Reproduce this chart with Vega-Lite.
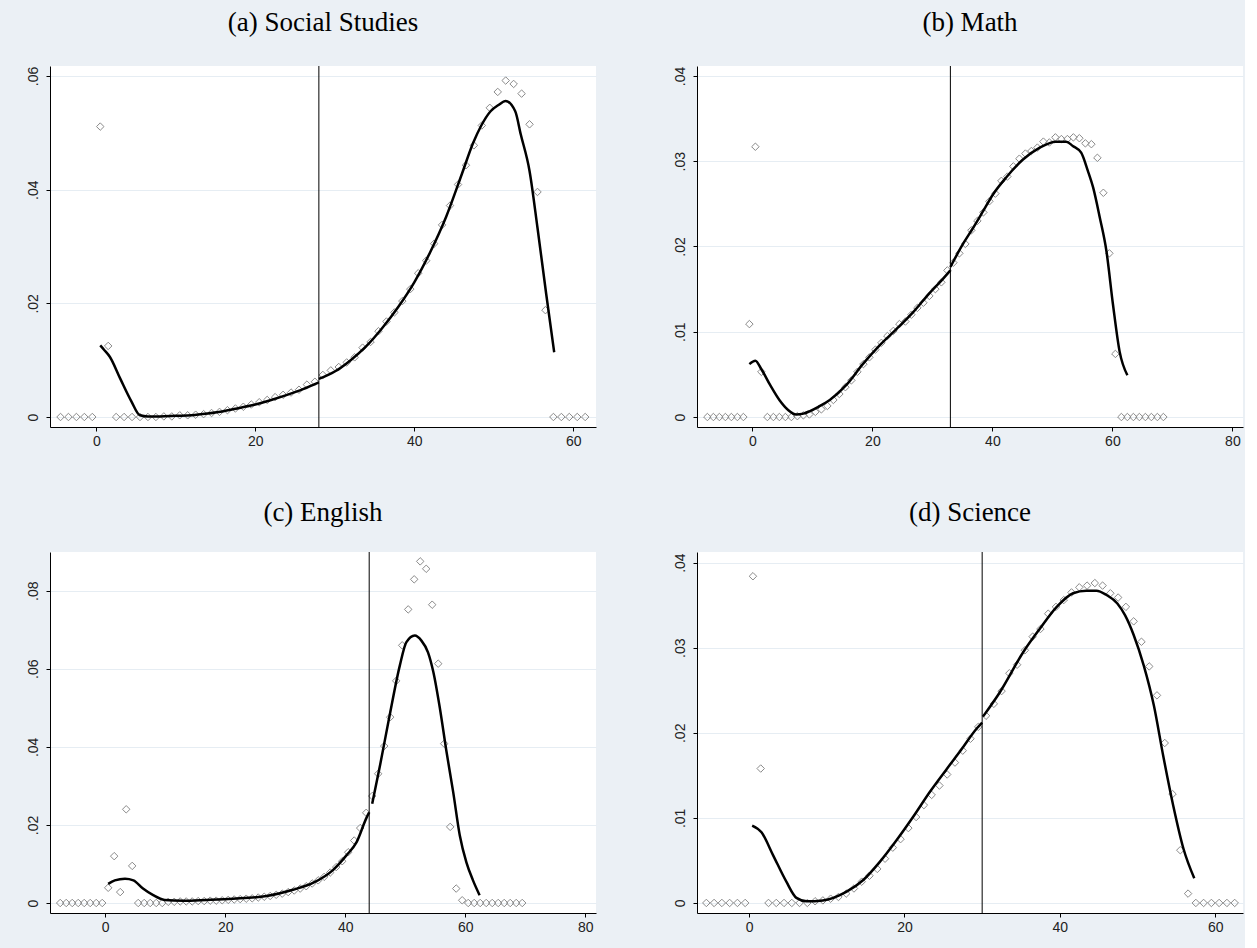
{
  "$schema": "https://vega.github.io/schema/vega-lite/v6.json",
  "background": "#ebf0f5",
  "padding": {"left": 26, "top": 8, "right": 2, "bottom": 21},
  "columns": 2,
  "spacing": {"row": 125, "column": 101},
  "bounds": "flush",
  "config": {
    "view": {"fill": "white", "stroke": null},
    "axis": {"domainColor": "#000", "domainWidth": 1, "tickColor": "#000", "tickSize": 4, "tickWidth": 1, "labelFont": "Liberation Sans", "labelFontSize": 14, "labelColor": "#222", "labelFlush": false, "labelOverlap": false},
    "axisX": {"grid": false, "labelPadding": 3},
    "axisY": {"grid": true, "gridColor": "#e6edf3", "gridWidth": 1, "labelAngle": -90, "labelAlign": "center", "labelBaseline": "bottom", "labelPadding": 6},
    "title": {"font": "Liberation Serif", "fontSize": 27, "fontWeight": "normal", "color": "#000", "anchor": "middle", "baseline": "alphabetic"}
  },
  "datasets": {
    "a_pts": [
      {"x":-4.5,"y":0},{"x":-3.5,"y":0},{"x":-2.5,"y":0},{"x":-1.5,"y":0},{"x":-0.5,"y":0},{"x":0.5,"y":0.0511},{"x":1.5,"y":0.0125},{"x":2.5,"y":0},{"x":3.5,"y":0},{"x":4.5,"y":0},{"x":5.5,"y":0},{"x":6.5,"y":0},{"x":7.5,"y":0},{"x":8.5,"y":0.0001},{"x":9.5,"y":0.0001},{"x":10.5,"y":0.0003},{"x":11.5,"y":0.0003},{"x":12.5,"y":0.0004},{"x":13.5,"y":0.0005},{"x":14.5,"y":0.0007},{"x":15.5,"y":0.0009},{"x":16.5,"y":0.0012},{"x":17.5,"y":0.0015},{"x":18.5,"y":0.0018},{"x":19.5,"y":0.0022},{"x":20.5,"y":0.0026},{"x":21.5,"y":0.003},{"x":22.5,"y":0.0035},{"x":23.5,"y":0.0039},{"x":24.5,"y":0.0043},{"x":25.5,"y":0.0048},{"x":26.5,"y":0.0057},{"x":27.5,"y":0.0062},{"x":28.5,"y":0.0074},{"x":29.5,"y":0.0082},{"x":30.5,"y":0.0088},{"x":31.5,"y":0.0096},{"x":32.5,"y":0.0105},{"x":33.5,"y":0.0122},{"x":34.5,"y":0.0132},{"x":35.5,"y":0.0151},{"x":36.5,"y":0.0168},{"x":37.5,"y":0.0184},{"x":38.5,"y":0.0204},{"x":39.5,"y":0.0225},{"x":40.5,"y":0.0253},{"x":41.5,"y":0.0275},{"x":42.5,"y":0.0305},{"x":43.5,"y":0.0338},{"x":44.5,"y":0.0372},{"x":45.5,"y":0.0409},{"x":46.5,"y":0.0443},{"x":47.5,"y":0.0478},{"x":48.5,"y":0.0513},{"x":49.5,"y":0.0544},{"x":50.5,"y":0.0572},{"x":51.5,"y":0.0592},{"x":52.5,"y":0.0586},{"x":53.5,"y":0.0569},{"x":54.5,"y":0.0515},{"x":55.5,"y":0.0396},{"x":56.5,"y":0.0188},{"x":57.5,"y":0},{"x":58.5,"y":0},{"x":59.5,"y":0},{"x":60.5,"y":0},{"x":61.5,"y":0}
    ],
    "a_line": [
      {"x":0.5,"y":0.0126,"s":"L"},{"x":1.0,"y":0.0118,"s":"L"},{"x":1.7,"y":0.0106,"s":"L"},{"x":3.0,"y":0.0068,"s":"L"},{"x":4.4,"y":0.0028,"s":"L"},{"x":5.5,"y":0.0003,"s":"L"},{"x":6.5,"y":0.0001,"s":"L"},{"x":8,"y":0.0001,"s":"L"},{"x":10,"y":0.0002,"s":"L"},{"x":12,"y":0.0003,"s":"L"},{"x":14,"y":0.0006,"s":"L"},{"x":16,"y":0.001,"s":"L"},{"x":18,"y":0.0016,"s":"L"},{"x":20,"y":0.0022,"s":"L"},{"x":22,"y":0.003,"s":"L"},{"x":24,"y":0.0039,"s":"L"},{"x":26,"y":0.0049,"s":"L"},{"x":28,"y":0.0061,"s":"L"},
      {"x":28,"y":0.0067,"s":"R"},{"x":30,"y":0.008,"s":"R"},{"x":32,"y":0.01,"s":"R"},{"x":34,"y":0.0125,"s":"R"},{"x":36,"y":0.0157,"s":"R"},{"x":38,"y":0.0194,"s":"R"},{"x":40,"y":0.0237,"s":"R"},{"x":42,"y":0.029,"s":"R"},{"x":44,"y":0.0352,"s":"R"},{"x":46,"y":0.0428,"s":"R"},{"x":47.4,"y":0.0482,"s":"R"},{"x":48.4,"y":0.0512,"s":"R"},{"x":49.6,"y":0.0538,"s":"R"},{"x":50.6,"y":0.0549,"s":"R"},{"x":51.5,"y":0.0556,"s":"R"},{"x":52.7,"y":0.0538,"s":"R"},{"x":53.4,"y":0.0497,"s":"R"},{"x":54.5,"y":0.0433,"s":"R"},{"x":55.5,"y":0.0333,"s":"R"},{"x":56.6,"y":0.0216,"s":"R"},{"x":57.6,"y":0.0114,"s":"R"}
    ],
    "b_pts": [
      {"x":-7.5,"y":0},{"x":-6.5,"y":0},{"x":-5.5,"y":0},{"x":-4.5,"y":0},{"x":-3.5,"y":0},{"x":-2.5,"y":0},{"x":-1.5,"y":0},{"x":-0.5,"y":0.0109},{"x":0.5,"y":0.0317},{"x":1.5,"y":0.0053},{"x":2.5,"y":0},{"x":3.5,"y":0},{"x":4.5,"y":0},{"x":5.5,"y":0},{"x":6.5,"y":0},{"x":7.5,"y":0.0001},{"x":8.5,"y":0.0002},{"x":9.5,"y":0.0003},{"x":10.5,"y":0.0006},{"x":11.5,"y":0.0009},{"x":12.5,"y":0.0013},{"x":13.5,"y":0.002},{"x":14.5,"y":0.0027},{"x":15.5,"y":0.0035},{"x":16.5,"y":0.0043},{"x":17.5,"y":0.0053},{"x":18.5,"y":0.0062},{"x":19.5,"y":0.007},{"x":20.5,"y":0.0079},{"x":21.5,"y":0.0087},{"x":22.5,"y":0.0095},{"x":23.5,"y":0.0101},{"x":24.5,"y":0.0109},{"x":25.5,"y":0.0112},{"x":26.5,"y":0.012},{"x":27.5,"y":0.0128},{"x":28.5,"y":0.0134},{"x":29.5,"y":0.0142},{"x":30.5,"y":0.015},{"x":31.5,"y":0.0158},{"x":32.5,"y":0.0172},{"x":33.5,"y":0.0181},{"x":34.5,"y":0.0192},{"x":35.5,"y":0.0203},{"x":36.5,"y":0.0219},{"x":37.5,"y":0.023},{"x":38.5,"y":0.024},{"x":39.5,"y":0.0253},{"x":40.5,"y":0.0262},{"x":41.5,"y":0.0277},{"x":42.5,"y":0.0282},{"x":43.5,"y":0.0294},{"x":44.5,"y":0.0303},{"x":45.5,"y":0.0309},{"x":46.5,"y":0.0312},{"x":47.5,"y":0.0316},{"x":48.5,"y":0.0323},{"x":49.5,"y":0.0322},{"x":50.5,"y":0.0328},{"x":51.5,"y":0.0326},{"x":52.5,"y":0.0326},{"x":53.5,"y":0.0328},{"x":54.5,"y":0.0327},{"x":55.5,"y":0.0321},{"x":56.5,"y":0.032},{"x":57.5,"y":0.0304},{"x":58.5,"y":0.0263},{"x":59.5,"y":0.0192},{"x":60.5,"y":0.0074},{"x":61.5,"y":0},{"x":62.5,"y":0},{"x":63.5,"y":0},{"x":64.5,"y":0},{"x":65.5,"y":0},{"x":66.5,"y":0},{"x":67.5,"y":0},{"x":68.5,"y":0}
    ],
    "b_line": [
      {"x":-0.5,"y":0.0062,"s":"L"},{"x":0.5,"y":0.0066,"s":"L"},{"x":1.5,"y":0.0056,"s":"L"},{"x":3,"y":0.0037,"s":"L"},{"x":4.5,"y":0.002,"s":"L"},{"x":6,"y":0.0008,"s":"L"},{"x":7.3,"y":0.0003,"s":"L"},{"x":8.5,"y":0.0004,"s":"L"},{"x":9.6,"y":0.0007,"s":"L"},{"x":11,"y":0.0012,"s":"L"},{"x":12.9,"y":0.002,"s":"L"},{"x":15.7,"y":0.0038,"s":"L"},{"x":18.4,"y":0.0062,"s":"L"},{"x":21.2,"y":0.0084,"s":"L"},{"x":24,"y":0.0103,"s":"L"},{"x":26.8,"y":0.0123,"s":"L"},{"x":29.6,"y":0.0146,"s":"L"},{"x":31.5,"y":0.016,"s":"L"},{"x":33,"y":0.0172,"s":"L"},
      {"x":33,"y":0.0176,"s":"R"},{"x":35.1,"y":0.0203,"s":"R"},{"x":36.8,"y":0.0222,"s":"R"},{"x":38.5,"y":0.0242,"s":"R"},{"x":40.1,"y":0.0261,"s":"R"},{"x":42.3,"y":0.0281,"s":"R"},{"x":45.1,"y":0.0302,"s":"R"},{"x":47.9,"y":0.0316,"s":"R"},{"x":50.6,"y":0.0323,"s":"R"},{"x":52.3,"y":0.0323,"s":"R"},{"x":53.4,"y":0.0318,"s":"R"},{"x":54.8,"y":0.031,"s":"R"},{"x":55.9,"y":0.0289,"s":"R"},{"x":56.8,"y":0.0269,"s":"R"},{"x":57.9,"y":0.0234,"s":"R"},{"x":59,"y":0.0195,"s":"R"},{"x":60.1,"y":0.0132,"s":"R"},{"x":61.2,"y":0.0077,"s":"R"},{"x":62.5,"y":0.0049,"s":"R"}
    ],
    "c_pts": [
      {"x":-7.5,"y":0},{"x":-6.5,"y":0},{"x":-5.5,"y":0},{"x":-4.5,"y":0},{"x":-3.5,"y":0},{"x":-2.5,"y":0},{"x":-1.5,"y":0},{"x":-0.5,"y":0},{"x":0.5,"y":0.0039},{"x":1.5,"y":0.012},{"x":2.5,"y":0.0028},{"x":3.5,"y":0.024},{"x":4.5,"y":0.0095},{"x":5.5,"y":0},{"x":6.5,"y":0},{"x":7.5,"y":0},{"x":8.5,"y":0},{"x":9.5,"y":0},{"x":10.5,"y":0.0003},{"x":11.5,"y":0.0003},{"x":12.5,"y":0.0004},{"x":13.5,"y":0.0004},{"x":14.5,"y":0.0004},{"x":15.5,"y":0.0005},{"x":16.5,"y":0.0005},{"x":17.5,"y":0.0006},{"x":18.5,"y":0.0006},{"x":19.5,"y":0.0007},{"x":20.5,"y":0.0008},{"x":21.5,"y":0.0009},{"x":22.5,"y":0.001},{"x":23.5,"y":0.0011},{"x":24.5,"y":0.0012},{"x":25.5,"y":0.0014},{"x":26.5,"y":0.0016},{"x":27.5,"y":0.0018},{"x":28.5,"y":0.0021},{"x":29.5,"y":0.0024},{"x":30.5,"y":0.0028},{"x":31.5,"y":0.0032},{"x":32.5,"y":0.0037},{"x":33.5,"y":0.0043},{"x":34.5,"y":0.005},{"x":35.5,"y":0.0058},{"x":36.5,"y":0.0067},{"x":37.5,"y":0.0078},{"x":38.5,"y":0.0092},{"x":39.5,"y":0.0107},{"x":40.5,"y":0.013},{"x":41.5,"y":0.016},{"x":42.5,"y":0.0192},{"x":43.5,"y":0.0231},{"x":44.5,"y":0.0274},{"x":45.5,"y":0.0331},{"x":46.5,"y":0.0402},{"x":47.5,"y":0.0476},{"x":48.5,"y":0.0569},{"x":49.5,"y":0.066},{"x":50.5,"y":0.0752},{"x":51.5,"y":0.0829},{"x":52.5,"y":0.0875},{"x":53.5,"y":0.0856},{"x":54.5,"y":0.0764},{"x":55.5,"y":0.0613},{"x":56.5,"y":0.0408},{"x":57.5,"y":0.0195},{"x":58.5,"y":0.0037},{"x":59.5,"y":0.0007},{"x":60.5,"y":0},{"x":61.5,"y":0},{"x":62.5,"y":0},{"x":63.5,"y":0},{"x":64.5,"y":0},{"x":65.5,"y":0},{"x":66.5,"y":0},{"x":67.5,"y":0},{"x":68.5,"y":0},{"x":69.5,"y":0}
    ],
    "c_line": [
      {"x":0.5,"y":0.0049,"s":"L"},{"x":1.6,"y":0.0058,"s":"L"},{"x":3.3,"y":0.0062,"s":"L"},{"x":4.7,"y":0.0058,"s":"L"},{"x":6.3,"y":0.0037,"s":"L"},{"x":8,"y":0.002,"s":"L"},{"x":9.9,"y":0.0008,"s":"L"},{"x":13,"y":0.0006,"s":"L"},{"x":16.9,"y":0.0008,"s":"L"},{"x":21.3,"y":0.0011,"s":"L"},{"x":26.9,"y":0.0018,"s":"L"},{"x":31.3,"y":0.0034,"s":"L"},{"x":34.7,"y":0.0052,"s":"L"},{"x":38,"y":0.0085,"s":"L"},{"x":40.2,"y":0.0122,"s":"L"},{"x":41.9,"y":0.0156,"s":"L"},{"x":43.6,"y":0.022,"s":"L"},{"x":44,"y":0.0232,"s":"L"},
      {"x":44.5,"y":0.0254,"s":"R"},{"x":45.8,"y":0.0352,"s":"R"},{"x":47.4,"y":0.048,"s":"R"},{"x":49.1,"y":0.0608,"s":"R"},{"x":50.2,"y":0.0668,"s":"R"},{"x":51.6,"y":0.0685,"s":"R"},{"x":52.7,"y":0.0672,"s":"R"},{"x":53.8,"y":0.0642,"s":"R"},{"x":54.7,"y":0.0591,"s":"R"},{"x":55.8,"y":0.0497,"s":"R"},{"x":56.9,"y":0.0386,"s":"R"},{"x":58,"y":0.0284,"s":"R"},{"x":59.1,"y":0.0173,"s":"R"},{"x":60.2,"y":0.0104,"s":"R"},{"x":61.3,"y":0.0058,"s":"R"},{"x":62.4,"y":0.002,"s":"R"}
    ],
    "d_pts": [
      {"x":-5.5,"y":0},{"x":-4.5,"y":0},{"x":-3.5,"y":0},{"x":-2.5,"y":0},{"x":-1.5,"y":0},{"x":-0.5,"y":0},{"x":0.5,"y":0.0384},{"x":1.5,"y":0.0158},{"x":2.5,"y":0},{"x":3.5,"y":0},{"x":4.5,"y":0},{"x":5.5,"y":0},{"x":6.5,"y":0},{"x":7.5,"y":0},{"x":8.5,"y":0.0002},{"x":9.5,"y":0.0003},{"x":10.5,"y":0.0005},{"x":11.5,"y":0.0007},{"x":12.5,"y":0.0011},{"x":13.5,"y":0.0017},{"x":14.5,"y":0.0025},{"x":15.5,"y":0.0032},{"x":16.5,"y":0.004},{"x":17.5,"y":0.0052},{"x":18.5,"y":0.0065},{"x":19.5,"y":0.0075},{"x":20.5,"y":0.0088},{"x":21.5,"y":0.0101},{"x":22.5,"y":0.0115},{"x":23.5,"y":0.0127},{"x":24.5,"y":0.0138},{"x":25.5,"y":0.0151},{"x":26.5,"y":0.0165},{"x":27.5,"y":0.0179},{"x":28.5,"y":0.0193},{"x":29.5,"y":0.0207},{"x":30.5,"y":0.022},{"x":31.5,"y":0.0234},{"x":32.5,"y":0.0249},{"x":33.5,"y":0.027},{"x":34.5,"y":0.028},{"x":35.5,"y":0.0297},{"x":36.5,"y":0.0313},{"x":37.5,"y":0.0322},{"x":38.5,"y":0.034},{"x":39.5,"y":0.0348},{"x":40.5,"y":0.0356},{"x":41.5,"y":0.0365},{"x":42.5,"y":0.0371},{"x":43.5,"y":0.0373},{"x":44.5,"y":0.0376},{"x":45.5,"y":0.0373},{"x":46.5,"y":0.0364},{"x":47.5,"y":0.0359},{"x":48.5,"y":0.0348},{"x":49.5,"y":0.0331},{"x":50.5,"y":0.0307},{"x":51.5,"y":0.0278},{"x":52.5,"y":0.0244},{"x":53.5,"y":0.0188},{"x":54.5,"y":0.0128},{"x":55.5,"y":0.0062},{"x":56.5,"y":0.0011},{"x":57.5,"y":0},{"x":58.5,"y":0},{"x":59.5,"y":0},{"x":60.5,"y":0},{"x":61.5,"y":0},{"x":62.5,"y":0}
    ],
    "d_line": [
      {"x":0.4,"y":0.0091,"s":"L"},{"x":1.6,"y":0.0083,"s":"L"},{"x":3.1,"y":0.0056,"s":"L"},{"x":4.8,"y":0.0025,"s":"L"},{"x":6.1,"y":0.0006,"s":"L"},{"x":7.4,"y":0.0002,"s":"L"},{"x":9.5,"y":0.0003,"s":"L"},{"x":12.5,"y":0.0013,"s":"L"},{"x":14.7,"y":0.0027,"s":"L"},{"x":16.8,"y":0.0048,"s":"L"},{"x":19,"y":0.0074,"s":"L"},{"x":21.1,"y":0.0101,"s":"L"},{"x":23.3,"y":0.0131,"s":"L"},{"x":25.4,"y":0.0157,"s":"L"},{"x":27.3,"y":0.018,"s":"L"},{"x":29.3,"y":0.0205,"s":"L"},{"x":30,"y":0.0212,"s":"L"},
      {"x":30.1,"y":0.0219,"s":"R"},{"x":32.3,"y":0.0248,"s":"R"},{"x":35.3,"y":0.0295,"s":"R"},{"x":37.4,"y":0.0322,"s":"R"},{"x":39.6,"y":0.0348,"s":"R"},{"x":41.7,"y":0.0364,"s":"R"},{"x":43.4,"y":0.0367,"s":"R"},{"x":44.7,"y":0.0367,"s":"R"},{"x":46,"y":0.0362,"s":"R"},{"x":47.4,"y":0.0352,"s":"R"},{"x":48.4,"y":0.0338,"s":"R"},{"x":49.5,"y":0.0315,"s":"R"},{"x":50.8,"y":0.0279,"s":"R"},{"x":52.1,"y":0.0232,"s":"R"},{"x":53.3,"y":0.0173,"s":"R"},{"x":54.6,"y":0.0114,"s":"R"},{"x":55.9,"y":0.0064,"s":"R"},{"x":57.3,"y":0.0029,"s":"R"}
    ]
  },
  "concat": [
    {
      "width": 546, "height": 361,
      "title": {"text": "(a) Social Studies", "offset": 29},
      "layer": [
        {"data": {"name": "a_pts"}, "mark": {"type": "point", "shape": "diamond", "filled": false, "size": 56, "color": "#8a8a8a", "strokeWidth": 1, "opacity": 1},
         "encoding": {
           "x": {"field": "x", "type": "quantitative", "title": null, "scale": {"domain": [-5.82, 62.86], "nice": false, "zero": false}, "axis": {"values": [0, 20, 40, 60]}},
           "y": {"field": "y", "type": "quantitative", "title": null, "scale": {"domain": [-0.00176, 0.06176], "nice": false, "zero": false}, "axis": {"values": [0, 0.02, 0.04, 0.06], "labelExpr": "datum.value == 0 ? '0' : replace(format(datum.value, '.2f'), '0.', '.')"}}
         }},
        {"data": {"name": "a_line"}, "mark": {"type": "line", "color": "black", "strokeWidth": 2.5, "interpolate": "monotone"},
         "encoding": {"x": {"field": "x", "type": "quantitative"}, "y": {"field": "y", "type": "quantitative"}, "detail": {"field": "s", "type": "nominal"}}},
        {"data": {"values": [{"cut": 28}]}, "mark": {"type": "rule", "color": "black", "strokeWidth": 1},
         "encoding": {"x": {"field": "cut", "type": "quantitative"}}}
      ]
    },
    {
      "width": 546, "height": 361,
      "title": {"text": "(b) Math", "offset": 29},
      "layer": [
        {"data": {"name": "b_pts"}, "mark": {"type": "point", "shape": "diamond", "filled": false, "size": 56, "color": "#8a8a8a", "strokeWidth": 1, "opacity": 1},
         "encoding": {
           "x": {"field": "x", "type": "quantitative", "title": null, "scale": {"domain": [-9.23, 81.77], "nice": false, "zero": false}, "axis": {"values": [0, 20, 40, 60, 80]}},
           "y": {"field": "y", "type": "quantitative", "title": null, "scale": {"domain": [-0.00117, 0.04117], "nice": false, "zero": false}, "axis": {"values": [0, 0.01, 0.02, 0.03, 0.04], "labelExpr": "datum.value == 0 ? '0' : replace(format(datum.value, '.2f'), '0.', '.')"}}
         }},
        {"data": {"name": "b_line"}, "mark": {"type": "line", "color": "black", "strokeWidth": 2.5, "interpolate": "monotone"},
         "encoding": {"x": {"field": "x", "type": "quantitative"}, "y": {"field": "y", "type": "quantitative"}, "detail": {"field": "s", "type": "nominal"}}},
        {"data": {"values": [{"cut": 33}]}, "mark": {"type": "rule", "color": "black", "strokeWidth": 1},
         "encoding": {"x": {"field": "cut", "type": "quantitative"}}}
      ]
    },
    {
      "width": 546, "height": 361,
      "title": {"text": "(c) English", "offset": 25},
      "layer": [
        {"data": {"name": "c_pts"}, "mark": {"type": "point", "shape": "diamond", "filled": false, "size": 56, "color": "#8a8a8a", "strokeWidth": 1, "opacity": 1},
         "encoding": {
           "x": {"field": "x", "type": "quantitative", "title": null, "scale": {"domain": [-9.2, 81.8], "nice": false, "zero": false}, "axis": {"values": [0, 20, 40, 60, 80]}},
           "y": {"field": "y", "type": "quantitative", "title": null, "scale": {"domain": [-0.00256, 0.0899], "nice": false, "zero": false}, "axis": {"values": [0, 0.02, 0.04, 0.06, 0.08], "labelExpr": "datum.value == 0 ? '0' : replace(format(datum.value, '.2f'), '0.', '.')"}}
         }},
        {"data": {"name": "c_line"}, "mark": {"type": "line", "color": "black", "strokeWidth": 2.5, "interpolate": "monotone"},
         "encoding": {"x": {"field": "x", "type": "quantitative"}, "y": {"field": "y", "type": "quantitative"}, "detail": {"field": "s", "type": "nominal"}}},
        {"data": {"values": [{"cut": 44}]}, "mark": {"type": "rule", "color": "black", "strokeWidth": 1},
         "encoding": {"x": {"field": "cut", "type": "quantitative"}}}
      ]
    },
    {
      "width": 546, "height": 361,
      "title": {"text": "(d) Science", "offset": 25},
      "layer": [
        {"data": {"name": "d_pts"}, "mark": {"type": "point", "shape": "diamond", "filled": false, "size": 56, "color": "#8a8a8a", "strokeWidth": 1, "opacity": 1},
         "encoding": {
           "x": {"field": "x", "type": "quantitative", "title": null, "scale": {"domain": [-6.7, 63.57], "nice": false, "zero": false}, "axis": {"values": [0, 20, 40, 60]}},
           "y": {"field": "y", "type": "quantitative", "title": null, "scale": {"domain": [-0.00118, 0.04125], "nice": false, "zero": false}, "axis": {"values": [0, 0.01, 0.02, 0.03, 0.04], "labelExpr": "datum.value == 0 ? '0' : replace(format(datum.value, '.2f'), '0.', '.')"}}
         }},
        {"data": {"name": "d_line"}, "mark": {"type": "line", "color": "black", "strokeWidth": 2.5, "interpolate": "monotone"},
         "encoding": {"x": {"field": "x", "type": "quantitative"}, "y": {"field": "y", "type": "quantitative"}, "detail": {"field": "s", "type": "nominal"}}},
        {"data": {"values": [{"cut": 30}]}, "mark": {"type": "rule", "color": "black", "strokeWidth": 1},
         "encoding": {"x": {"field": "cut", "type": "quantitative"}}}
      ]
    }
  ]
}
